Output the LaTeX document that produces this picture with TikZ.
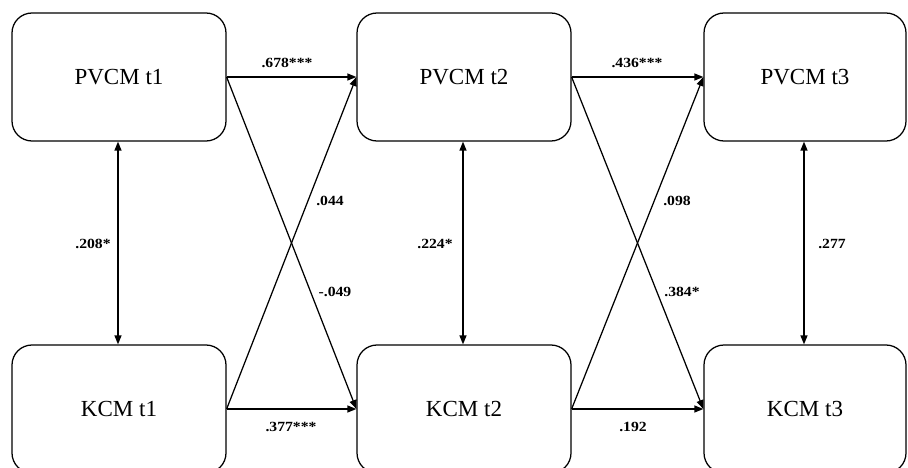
\documentclass[tikz,border=0pt]{standalone}
\usepackage{fontspec}
\setmainfont{Liberation Serif}
\usetikzlibrary{arrows.meta}
% bold coefficient, set slightly wide
\newcommand{\coeftext}[1]{\scalebox{1.12}[1]{\bfseries\fontsize{14}{16}\selectfont #1}}
\begin{document}
\begin{tikzpicture}[x=1pt,y=-1pt,
  box/.style={draw, line width=1.25pt, rounded corners=20pt, minimum width=214pt,
    minimum height=128pt, inner sep=0pt, font=\fontsize{23}{25}\selectfont},
  narrowbox/.style={box, minimum width=202pt},
  path/.style={line width=1.25pt, -{Triangle[length=9pt,width=7pt]}},
  corr/.style={line width=1.25pt, {Triangle[length=9pt,width=7pt]}-{Triangle[length=9pt,width=7pt]}},
  coef/.style={inner sep=0pt}]
\useasboundingbox (0,0) rectangle (908,468);
\clip (0,0) rectangle (908,468);
\fill[white] (0,0) rectangle (908,468);

% measurement boxes
\node[box] (p1) at (119,77) {PVCM t1};
\node[box] (p2) at (464,77) {PVCM t2};
\node[narrowbox] (p3) at (805,77) {PVCM t3};
\node[box] (k1) at (119,409) {KCM t1};
\node[box] (k2) at (464,409) {KCM t2};
\node[narrowbox] (k3) at (805,409) {KCM t3};

% autoregressive and cross-lagged paths
\draw[path] (p1.east) -- (p2.west);
\draw[path] (p1.east) -- (k2.west);
\draw[path] (k1.east) -- (p2.west);
\draw[path] (k1.east) -- (k2.west);
\draw[path] (p2.east) -- (p3.west);
\draw[path] (p2.east) -- (k3.west);
\draw[path] (k2.east) -- (p3.west);
\draw[path] (k2.east) -- (k3.west);

% within-wave correlations
\draw[corr] ([xshift=-1pt]p1.south) -- ([xshift=-1pt]k1.north);
\draw[corr] ([xshift=-1pt]p2.south) -- ([xshift=-1pt]k2.north);
\draw[corr] ([xshift=-1pt]p3.south) -- ([xshift=-1pt]k3.north);

% coefficients
\node[coef] (c1) at (287,63) {\coeftext{.678***}};
\node[coef] (c2) at (330,201) {\coeftext{.044}};
\node[coef] (c3) at (335,292) {\coeftext{-.049}};
\node[coef] (c4) at (291,427) {\coeftext{.377***}};
\node[coef] (c5) at (93,244) {\coeftext{.208*}};
\node[coef] (c6) at (435,244) {\coeftext{.224*}};
\node[coef] (c7) at (637,63) {\coeftext{.436***}};
\node[coef] (c8) at (677,201) {\coeftext{.098}};
\node[coef] (c9) at (682,292) {\coeftext{.384*}};
\node[coef] (c10) at (633,427) {\coeftext{.192}};
\node[coef] (c11) at (832,244) {\coeftext{.277}};
\end{tikzpicture}
\end{document}
